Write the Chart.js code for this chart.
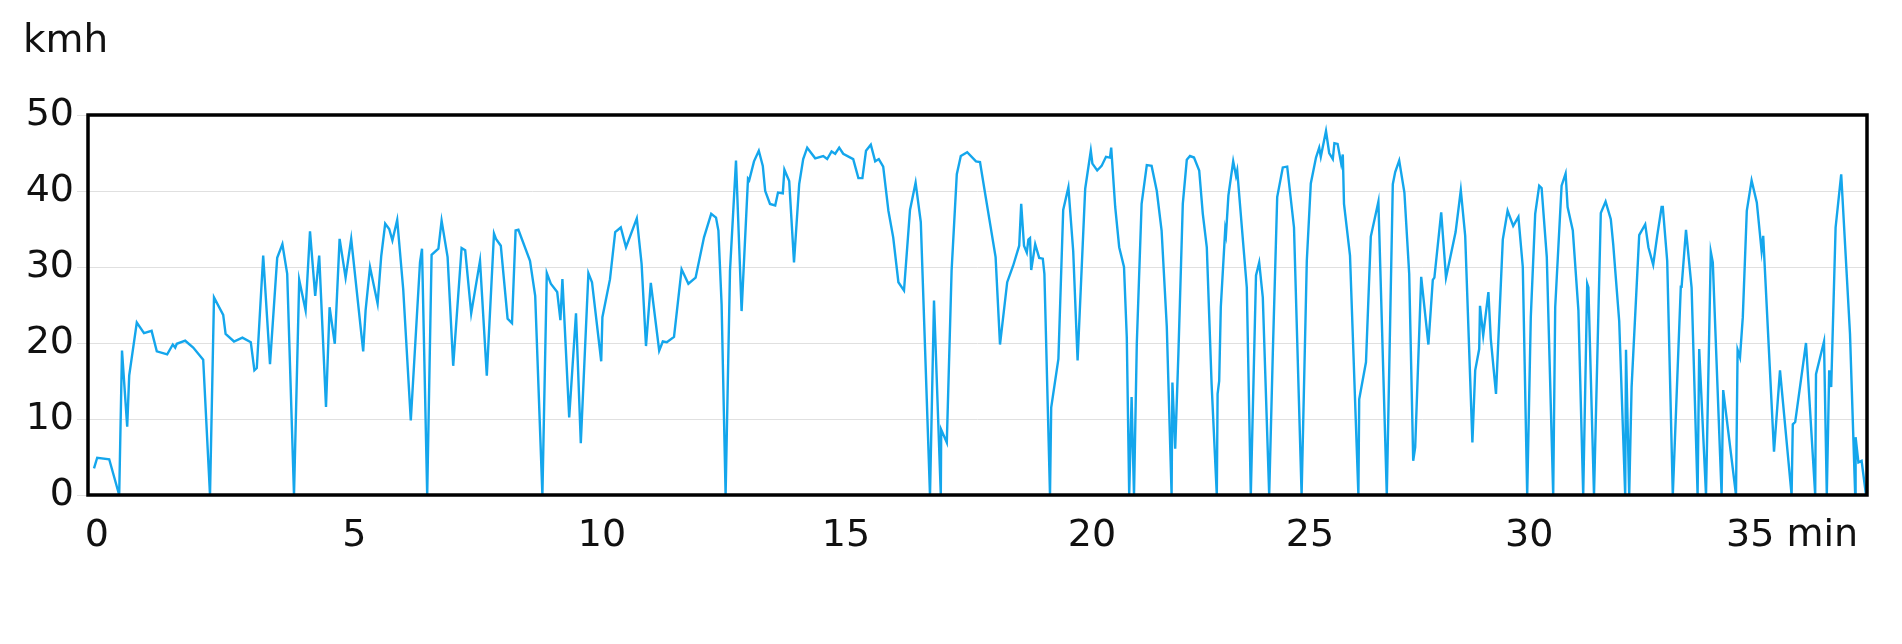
<!DOCTYPE html>
<html>
<head>
<meta charset="utf-8">
<script src="https://cdn.jsdelivr.net/npm/chart.js@4.4.1/dist/chart.umd.min.js"></script>
<style>
  html, body { margin: 0; padding: 0; background: #fff; }
  #wrap { width: 1902px; height: 644px; }
</style>
</head>
<body>
<div id="wrap"><canvas id="c" width="1902" height="644"></canvas></div>
<script>
// Sample position along the ride (evenly spaced samples) and speed in km/h
const pos = [
  1.5,2.3,5.3,7.8,8.5,9.8,10.3,12.2,14,15.9,17.2,19.8,21.2,21.8,22.2,24.3,26.3,28.8,30.5,31.5,33.8,34.4,36.5,38.6,40.7,41.6,42.2,43.8,45.5,47.3,48.6,49.8,51.5,52.8,54.4,55.5,56.8,57.8,59.5,60.4,61.7,62.9,64.4,65.8,68.8,69.4,70.5,72.4,73.3,74.3,
  75.3,76.1,77.3,78.8,80.7,83,83.5,84.8,85.9,87.6,88.4,89.9,91.3,93.4,94.3,95.8,98,99.7,101.5,102,103.2,104.9,106,106.9,107.6,110.5,111.8,113.6,114.7,115.7,117.3,118.1,118.6,120.3,122,123.2,125.1,126,128.3,128.6,130.5,131.8,133.2,134.5,137.2,138.4,139.5,140.7,142.8,143.7,144.7,146.5,148.4,
  150.1,151.9,154,155.8,157,157.6,158.4,159.4,160.5,162,163.4,165,165.3,166.5,167.7,168.7,169.3,170.5,171.8,172.5,173.7,174.1,175.3,176.5,177.8,178.8,179.8,181.8,183.8,184.8,185.9,186.8,187.8,188.8,191.3,192.6,193.6,194.5,195.7,196.8,197.7,198.8,200.1,201.3,202.6,204,205.5,206.9,208.2,210.5,211.5,213.2,213.3,214.7,215.9,217.2,218.2,219.8,222,223,
  224.3,226.9,228,229.8,231.3,232.8,233.3,234,234.7,235.1,235.5,235.8,236.8,237.8,238.7,239.1,240.5,240.8,242.6,243.8,245.1,246.3,247.4,249.3,250.7,251.1,252.3,253.4,254.5,255.5,255.8,256.8,257.8,259,259.7,260.3,260.9,261.5,262.2,263.4,264.7,265.9,267.2,268.4,269.7,270.9,271.1,271.8,272.6,273.7,274.7,275.5,276.5,277.8,278.7,279.7,280.9,282.2,282.4,282.8,283.2,284.3,284.5,285.1,286.3,287,287.3,289.7,290.7,292,292.8,293.7,295.3,296.2,297.3,298.7,299.8,
  301.5,303.4,304.7,305.7,307,307.8,308.2,309.5,310.3,311.2,311.6,312.4,313.3,313.7,314,315.5,317.6,317.8,319.5,320.7,322.6,324.7,326.2,326.8,327.8,329.1,330.3,331.3,331.8,333.3,335.1,336.2,336.6,338.3,339.5,341.9,343.2,344.3,346.1,346.8,347.8,348,348.8,350.1,350.7,352,353.7,354.9,356.3,357.6,358.7,359.8,360.7,361.8,362.8,363.4,364.7,366.3,366.8,368.4,369.4,369.9,371.2,372.6,
  373.8,374.8,375.1,376.5,378.2,379.4,380.7,381.3,382.8,384.3,384.5,385.3,385.9,387.8,389.3,390.1,391.3,392.3,393.4,393.7,394.8,396.2,398.2,398.4,399.5,400.9,402.4,402.8,404.5,405.7,406.2,408.4,408.8,412,412.4,413,413.7,414.7,415.9,417.2,418.4,418.8,421.5,423,425.9,426.2,426.8,429.5,431.8,432,434,434.7,435.3,435.8,436.9,438.3,440.5,441.8,441.9,442.6,443.4,444.5
];
const kmh = [
  3.5,4.9,4.7,0,19.0,9.0,15.7,22.7,21.3,21.6,18.9,18.5,19.8,19.4,19.9,20.3,19.4,17.8,0,26.0,23.7,21.2,20.2,20.7,20.1,16.4,16.7,31.5,17.2,31.2,33.0,29.1,0,28.3,24.3,34.7,26.2,31.5,11.6,24.7,19.9,33.7,28.6,33.7,18.9,24.3,30.0,25.2,31.4,35.7,
  35.0,33.5,36.2,27.1,9.8,30.6,32.4,0,31.6,32.4,36.1,31.3,17.0,32.5,32.2,23.9,30.8,15.7,34.4,33.7,32.8,23.2,22.6,34.8,34.9,30.8,26.2,0,29.2,27.8,26.7,23.0,28.4,10.2,23.9,6.8,29.2,28.0,17.6,23.4,28.4,34.6,35.2,32.6,36.4,30.4,19.6,27.9,19.0,20.2,20.1,20.8,29.7,
  27.8,28.6,33.9,37.0,36.5,34.8,25.1,0,29.5,44.0,24.2,41.6,41.4,43.9,45.3,43.3,40.0,38.3,38.1,39.8,39.7,42.8,41.3,30.6,40.9,44.2,45.7,44.3,44.6,44.2,45.2,44.9,45.7,44.9,44.2,41.7,41.7,45.3,46.1,43.9,44.2,43.2,37.4,33.9,28.0,26.9,37.5,41.1,35.9,0,25.6,0,8.6,6.9,29.5,42.2,44.6,45.1,43.9,43.8,
  39.6,31.3,19.8,28.0,30.2,32.8,38.3,32.8,31.9,33.6,33.8,29.6,33.0,31.2,31.1,29.1,0,11.5,17.9,37.5,40.5,32.1,17.7,40.3,45.3,43.6,42.7,43.3,44.5,44.4,45.7,37.9,32.6,30.0,20.7,0,12.9,0,19.9,38.3,43.4,43.3,40.0,34.8,22.1,0,14.8,6.1,18.6,38.3,44.1,44.6,44.4,42.7,37.0,32.6,14.6,0,13.3,15.0,24.7,34.9,34.3,39.4,43.9,42.0,42.7,27.3,0,28.9,30.6,26.0,0,18.6,39.2,43.1,43.2,
  35.2,0,30.8,41.0,44.4,45.7,44.5,47.9,45.0,44.2,46.3,46.2,43.6,44.8,38.3,31.5,0,12.6,17.5,34.0,38.6,0,40.9,42.5,44.0,39.8,29.1,4.5,6.3,28.7,19.8,28.3,28.6,37.2,28.6,34.6,40.1,34.1,6.9,16.4,19.2,24.9,21.0,26.7,20.5,13.3,33.6,37.4,35.4,36.6,30.0,0,23.4,37.0,40.7,40.4,31.3,0,24.7,40.7,42.3,37.9,34.8,24.3,
  0,27.8,27.3,0,37.1,38.6,36.3,33.0,22.9,0,19.1,0,14.2,34.2,35.6,32.6,30.3,34.1,37.9,37.9,30.8,0,27.4,27.4,34.9,27.3,0,19.2,0,32.0,30.6,0,13.8,0,19.1,18.1,23.4,37.4,41.4,38.5,32.1,34.1,5.7,16.4,0,9.3,9.6,20.0,0,15.9,20.2,0,16.4,14.2,35.2,42.2,21.2,0,7.6,4.3,4.5,0
];
// Time tick labels and the sample positions where they fall
const tickPos = [2.2, 66.6, 128.5, 189.5, 251, 305.5, 360.3, 426];
const tickLabels = ['0', '5', '10', '15', '20', '25', '30', '35 min'];
const yTicks = [0, 10, 20, 30, 40, 50];
const unitLabel = 'kmh';

const FONT = 'DejaVu Sans';
const boxPlugin = {
  id: 'box',
  afterDraw(chart) {
    const a = chart.chartArea, ctx = chart.ctx;
    ctx.save();
    ctx.strokeStyle = '#000';
    ctx.lineWidth = 3.5;
    ctx.strokeRect(a.left, a.top, a.right - a.left, a.bottom - a.top);
    ctx.restore();
  }
};

new Chart(document.getElementById('c'), {
  type: 'line',
  data: {
    datasets: [{
      data: pos.map((p, i) => ({ x: p, y: kmh[i] })),
      borderColor: '#14a6ec',
      borderWidth: 2.4,
      pointRadius: 0,
      tension: 0,
      fill: false
    }]
  },
  options: {
    responsive: false,
    animation: false,
    devicePixelRatio: 1,
    layout: { padding: { left: 23, right: 35, top: 0, bottom: 0 } },
    plugins: {
      legend: { display: false },
      tooltip: { enabled: false },
      title: {
        display: true,
        text: unitLabel,
        align: 'start',
        color: '#111',
        font: { family: FONT, size: 39, weight: 'normal' },
        padding: { top: 18, bottom: 50.2 }
      }
    },
    scales: {
      x: {
        type: 'linear',
        min: 0,
        max: 444.75,
        grid: { display: false, drawTicks: false },
        border: { display: false },
        afterBuildTicks: (s) => { s.ticks = tickPos.map(v => ({ value: v })); },
        afterFit: (s) => { s.paddingLeft = 0; s.paddingRight = 0; s.height = 149; },
        ticks: {
          autoSkip: false,
          maxRotation: 0,
          padding: 18,
          color: '#111',
          font: { family: FONT, size: 38 },
          callback: (v, i) => tickLabels[i]
        }
      },
      y: {
        min: 0,
        max: 50,
        afterBuildTicks: (s) => { s.ticks = yTicks.map(v => ({ value: v })); },
        afterFit: (s) => { s.width = 65; },
        grid: { color: '#e0e0e0', lineWidth: 1, tickLength: 11, drawTicks: true },
        border: { display: false },
        ticks: {
          padding: 3,
          color: '#111',
          font: { family: FONT, size: 38 }
        }
      }
    }
  },
  plugins: [boxPlugin]
});
</script>
</body>
</html>
